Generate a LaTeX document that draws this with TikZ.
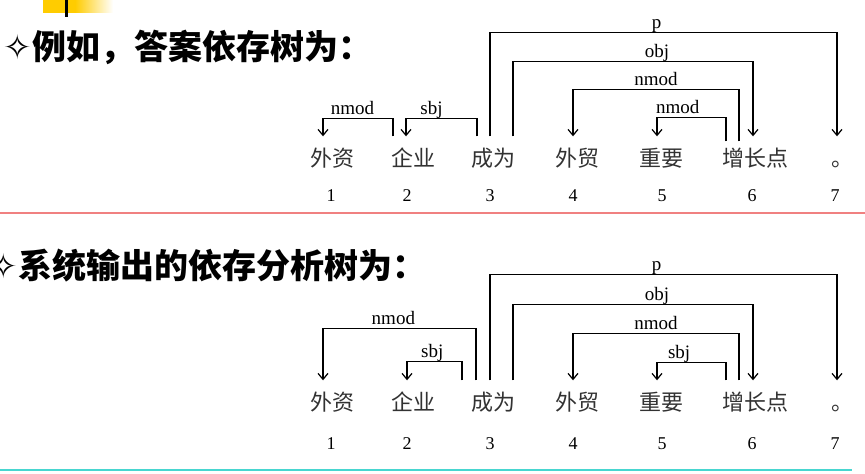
\documentclass[tikz,border=0pt]{standalone}
\usepackage{fontspec}
\setmainfont{Liberation Serif}
\newfontfamily\cjk{Noto Sans CJK SC}
\newfontfamily\symfont{DejaVu Sans}
\usetikzlibrary{arrows.meta}

\definecolor{wordgray}{RGB}{50,50,50}
\definecolor{rulered}{RGB}{240,128,128}
\definecolor{rulecyan}{RGB}{72,214,208}
\definecolor{baryellow}{RGB}{255,204,0}

\begin{document}
\begin{tikzpicture}
		[x=1pt, y=1pt,
		word/.style={font=\cjk\fontsize{22}{22}\selectfont, text=wordgray, inner sep=0pt, text height=17pt, text depth=3pt, minimum height=47pt},
		num/.style={font=\fontsize{18}{18}\selectfont, inner sep=0pt},
		dep/.style={-{Straight Barb[length=6pt,width=10pt]}, line width=1.2pt},
		lab/.style={font=\fontsize{19}{19}\selectfont, anchor=base, yshift=4pt, inner sep=0pt},
		title/.style={anchor=west, inner sep=0pt, font=\cjk\bfseries\fontsize{34}{34}\selectfont}]
		\useasboundingbox (0,0) rectangle (865,474);
		\fill[white] (0,0) rectangle (865,474);

		% header mark
		\fill[baryellow] (43,461) rectangle (75,474);
		\shade[left color=baryellow, right color=white] (75,461) rectangle (113,474);
		\draw[line width=3pt] (66.5,457) -- (66.5,474);

		% titles
		\node[title] (t1) at (3.5,427) {{\symfont\mdseries ✧}例如，答案依存树为：};
		\node[title] (t2) at (-10.5,208) {{\symfont\mdseries ✧}系统输出的依存分析树为：};

		% rules
		\draw[rulered, line width=2pt] (0,261) -- (865,261);
		\draw[rulecyan, line width=2pt] (0,4) -- (852,4);

		% answer tree
		\node[word] (a1) at (332,314) {外资};
		\node[word] (a2) at (413,314) {企业};
		\node[word] (a3) at (493,314) {成为};
		\node[word] (a4) at (577,314) {外贸};
		\node[word] (a5) at (661,314) {重要};
		\node[word] (a6) at (755,314) {增长点};
		\node[word] (a7) at (842,314) {。};
		\node[num] (n1) at (331,278) {1};
		\node[num] (n2) at (407,278) {2};
		\node[num] (n3) at (490,278) {3};
		\node[num] (n4) at (573,278) {4};
		\node[num] (n5) at (662,278) {5};
		\node[num] (n6) at (752,278) {6};
		\node[num] (n7) at (835,278) {7};

		\draw[dep] ([xshift=-20pt]a2.north) -- ++(0,18) -| node[lab, pos=.29] {nmod} ([xshift=-9pt]a1.north);
		\draw[dep] ([xshift=-16pt]a3.north) -- ++(0,18) -| node[lab, pos=.32] {sbj} ([xshift=-7pt]a2.north);
		\draw[dep] ([xshift=-3pt]a3.north) -- ++(0,104) -| node[lab, pos=.24] {p} ([xshift=-5pt]a7.north);
		\draw[dep] ([xshift=20pt]a3.north) -- ++(0,75) -| node[lab, pos=.3] {obj} ([xshift=-2pt]a6.north);
		\draw[dep] ([xshift=-16pt, yshift=-5pt]a6.north) -- ++(0,52) -| node[lab, pos=.25] {nmod} ([xshift=-4pt]a4.north);
		\draw[dep] ([xshift=-29pt, yshift=-5pt]a6.north) -- ++(0,24) -| node[lab, pos=.35] {nmod} ([xshift=-4pt]a5.north);

		% system output tree
		\node[word] (b1) at (332,70) {外资};
		\node[word] (b2) at (413,70) {企业};
		\node[word] (b3) at (493,70) {成为};
		\node[word] (b4) at (577,70) {外贸};
		\node[word] (b5) at (661,70) {重要};
		\node[word] (b6) at (755,70) {增长点};
		\node[word] (b7) at (842,70) {。};
		\node[num] (m1) at (331,30) {1};
		\node[num] (m2) at (407,30) {2};
		\node[num] (m3) at (490,30) {3};
		\node[num] (m4) at (573,30) {4};
		\node[num] (m5) at (662,30) {5};
		\node[num] (m6) at (752,30) {6};
		\node[num] (m7) at (835,30) {7};

		\draw[dep] ([xshift=-17pt]b3.north) -- ++(0,52) -| node[lab, pos=.27] {nmod} ([xshift=-9pt]b1.north);
		\draw[dep] ([xshift=-31pt]b3.north) -- ++(0,19) -| node[lab, pos=.27] {sbj} ([xshift=-6pt]b2.north);
		\draw[dep] ([xshift=-3pt]b3.north) -- ++(0,106) -| node[lab, pos=.24] {p} ([xshift=-5pt]b7.north);
		\draw[dep] ([xshift=20pt]b3.north) -- ++(0,76) -| node[lab, pos=.3] {obj} ([xshift=-2pt]b6.north);
		\draw[dep] ([xshift=-16pt]b6.north) -- ++(0,47) -| node[lab, pos=.25] {nmod} ([xshift=-4pt]b4.north);
		\draw[dep] ([xshift=-29pt]b6.north) -- ++(0,18) -| node[lab, pos=.34] {sbj} ([xshift=-4pt]b5.north);
	\end{tikzpicture}
\end{document}
